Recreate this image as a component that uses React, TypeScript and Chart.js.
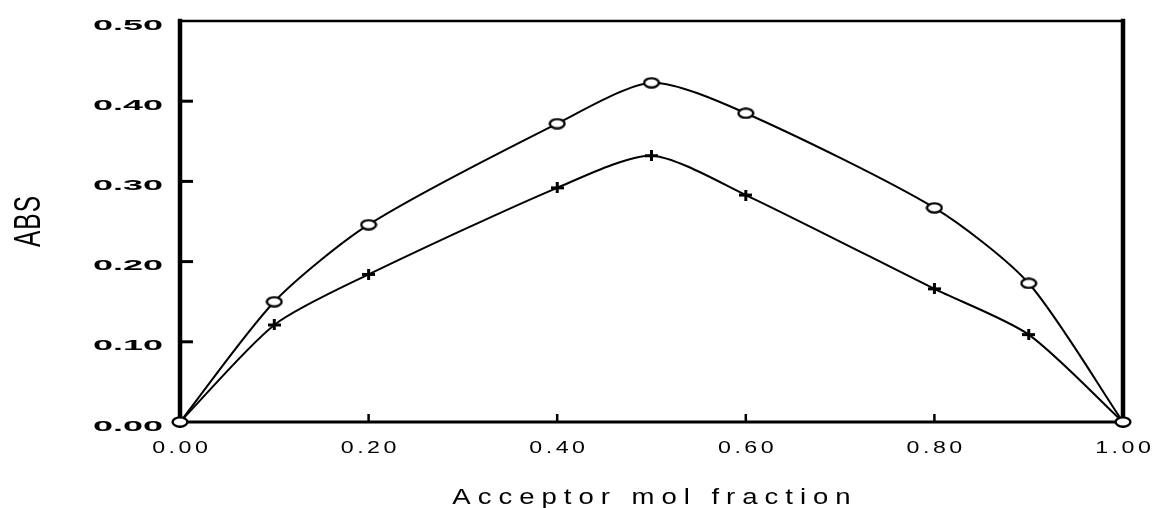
import React, { useEffect, useRef } from "react";
import { Chart, registerables } from "chart.js";

Chart.register(...registerables);

const xValues = [0, 0.1, 0.2, 0.4, 0.5, 0.6, 0.8, 0.9, 1.0];
const circleSeries = [0, 0.150, 0.246, 0.372, 0.423, 0.385, 0.267, 0.173, 0];
const plusSeries = [0, 0.121, 0.184, 0.292, 0.332, 0.283, 0.166, 0.109, 0];

const yTicks = [0, 0.1, 0.2, 0.3, 0.4, 0.5];
const yTickLabels = ["0.00", "0.10", "0.20", "0.30", "0.40", "0.50"];
const xTicks = [0, 0.2, 0.4, 0.6, 0.8, 1.0];
const xTickLabels = ["0.00", "0.20", "0.40", "0.60", "0.80", "1.00"];

const xTitle = "Acceptor mol fraction";
const yTitle = "ABS";

function makeCircle(): HTMLCanvasElement {
  const c = document.createElement("canvas");
  c.width = 18;
  c.height = 12;
  const ctx = c.getContext("2d")!;
  ctx.fillStyle = "#fff";
  ctx.strokeStyle = "#000";
  ctx.lineWidth = 2.4;
  ctx.beginPath();
  ctx.ellipse(9, 6, 7.4, 4.6, 0, 0, Math.PI * 2);
  ctx.fill();
  ctx.stroke();
  return c;
}

function makePlus(): HTMLCanvasElement {
  const c = document.createElement("canvas");
  c.width = 13;
  c.height = 11;
  const ctx = c.getContext("2d")!;
  ctx.fillStyle = "#000";
  ctx.fillRect(0, 4, 13, 3);
  ctx.fillRect(5, 0, 3, 11);
  return c;
}

function drawSpaced(
  ctx: CanvasRenderingContext2D,
  text: string,
  x: number,
  y: number,
  font: string,
  scaleX: number,
  spacing: number,
  align: "left" | "center" | "right"
) {
  ctx.save();
  ctx.font = font;
  ctx.textAlign = "left";
  ctx.textBaseline = "alphabetic";
  ctx.fillStyle = "#000";
  const chars = Array.from(text);
  const widths = chars.map((ch) => ctx.measureText(ch).width * scaleX);
  const total = widths.reduce((a, b) => a + b, 0) + spacing * (chars.length - 1);
  let start = align === "center" ? x - total / 2 : align === "right" ? x - total : x;
  chars.forEach((ch, i) => {
    ctx.save();
    ctx.translate(start, y);
    ctx.scale(scaleX, 1);
    ctx.fillText(ch, 0, 0);
    ctx.restore();
    start += widths[i] + spacing;
  });
  ctx.restore();
}

const framePlugin = {
  id: "framePlugin",
  beforeDatasetsDraw(chart: any) {
    const ctx: CanvasRenderingContext2D = chart.ctx;
    const xs = chart.scales.x;
    const ys = chart.scales.y;
    const l = xs.getPixelForValue(0);
    const r = xs.getPixelForValue(1);
    const t = ys.getPixelForValue(0.5);
    const b = ys.getPixelForValue(0);
    ctx.save();
    ctx.strokeStyle = "#000";
    ctx.lineCap = "square";
    // top
    ctx.lineWidth = 2.5;
    ctx.beginPath();
    ctx.moveTo(l, t);
    ctx.lineTo(r, t);
    ctx.stroke();
    // bottom
    ctx.lineWidth = 3;
    ctx.beginPath();
    ctx.moveTo(l, b);
    ctx.lineTo(r, b);
    ctx.stroke();
    // left & right
    ctx.lineWidth = 4.5;
    ctx.beginPath();
    ctx.moveTo(l, t);
    ctx.lineTo(l, b);
    ctx.moveTo(r, t);
    ctx.lineTo(r, b);
    ctx.stroke();
    // y ticks (inside)
    ctx.lineCap = "butt";
    ctx.lineWidth = 3;
    yTicks.forEach((v) => {
      if (v === 0 || v === 0.5) return;
      const py = ys.getPixelForValue(v);
      ctx.beginPath();
      ctx.moveTo(l, py);
      ctx.lineTo(l + 13, py);
      ctx.stroke();
    });
    // x ticks (inside)
    ctx.lineWidth = 2.5;
    xTicks.forEach((v) => {
      if (v === 0 || v === 1) return;
      const px = xs.getPixelForValue(v);
      ctx.beginPath();
      ctx.moveTo(px, b);
      ctx.lineTo(px, b - 8);
      ctx.stroke();
    });
    ctx.restore();

    // labels
    yTicks.forEach((v, i) => {
      const py = ys.getPixelForValue(v);
      drawSpaced(ctx, yTickLabels[i], 163, py + 8.5, "bold 15px 'Liberation Sans'", 2.4, 0, "right");
    });
    xTicks.forEach((v, i) => {
      const px = xs.getPixelForValue(v);
      drawSpaced(ctx, xTickLabels[i], px, 453, "16px 'Liberation Sans'", 1.45, 3.5, "center");
    });
    drawSpaced(ctx, xTitle, (l + r) / 2, 503.5, "22px 'Liberation Sans'", 1.25, 7, "center");

    ctx.save();
    ctx.translate(40, (t + b) / 2);
    ctx.rotate(-Math.PI / 2);
    drawSpaced(ctx, yTitle, 0, 0, "36px 'Liberation Sans'", 0.68, 1, "center");
    ctx.restore();
  },
};

export default function App() {
  const ref = useRef<HTMLCanvasElement | null>(null);
  useEffect(() => {
    document.body.style.margin = "0";
    const circle = makeCircle();
    const plus = makePlus();
    const chart = new Chart(ref.current!, {
      type: "line",
      data: {
        datasets: [
          {
            label: "circle",
            data: xValues.map((x, i) => ({ x, y: circleSeries[i] })),
            borderColor: "#000",
            borderWidth: 2,
            tension: 0.25,
            pointStyle: circle as any,
            pointRadius: 6,
            clip: false as any,
          },
          {
            label: "plus",
            data: xValues.map((x, i) => ({ x, y: plusSeries[i] })),
            borderColor: "#000",
            borderWidth: 2,
            tension: 0.25,
            pointStyle: plus as any,
            pointRadius: 6,
            clip: false as any,
          },
        ],
      },
      options: {
        animation: false,
        responsive: false,
        layout: { padding: { left: 180, right: 31, top: 21, bottom: 86 } },
        plugins: { legend: { display: false }, tooltip: { enabled: false } },
        scales: {
          x: { type: "linear", min: 0, max: 1, display: false },
          y: { type: "linear", min: 0, max: 0.5, display: false },
        },
      },
      plugins: [framePlugin],
    });
    return () => chart.destroy();
  }, []);
  return (
    <div style={{ width: 1154, height: 508 }}>
      <canvas ref={ref} width={1154} height={508} style={{ display: "block" }} />
    </div>
  );
}
